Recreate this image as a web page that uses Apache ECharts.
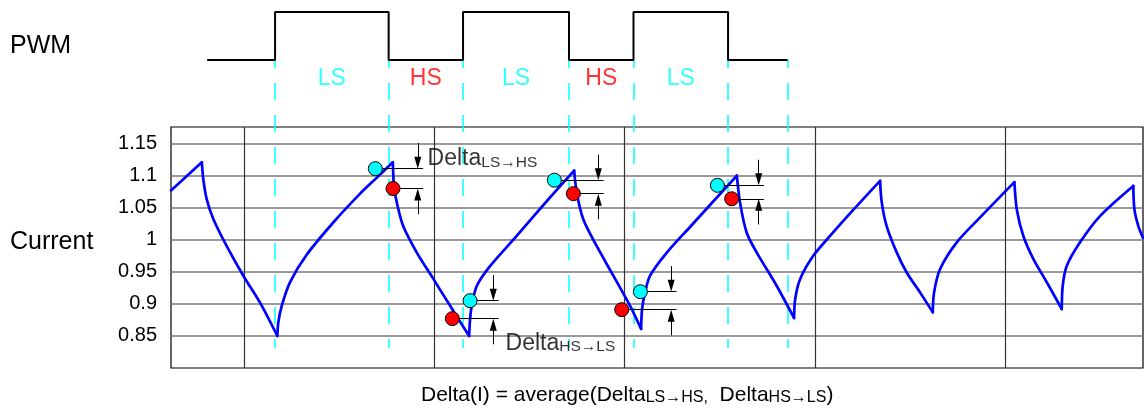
<!DOCTYPE html>
<html>
<head>
<meta charset="utf-8">
<title>PWM current delta</title>
<script src="https://cdn.jsdelivr.net/npm/echarts@6/dist/echarts.min.js"></script>
<style>
html,body{margin:0;padding:0;background:#fff;}
#main{width:1144px;height:408px;}
</style>
</head>
<body>
<div id="main"></div>
<script>
// time axis: one grid division = 10 units, t = 0 at the first vertical grid line
var gridTimes = [0, 10, 20, 30, 40];
var currentTicks = [0.85, 0.9, 0.95, 1, 1.05, 1.1, 1.15];

// PWM: trace start, switching edges, trace end
var pwmEdges = [-1.94, 1.63, 7.6, 11.51, 17.08, 20.47, 25.44, 28.57];
var pwmLevels = [0, 1, 0, 1, 0, 1, 0, 0];
var phaseNames = ['LS', 'HS', 'LS', 'HS', 'LS'];

// current trace
var curveT = [-3.84, -2.22, -2.14, -1.96, -1.61, -0.91, -0.04, 0.84, 1.75,
    1.80, 1.98, 2.42, 3.30, 4.69, 6.10, 6.98, 7.82,
    7.88, 8.03, 8.37, 9.08, 9.95, 10.83, 11.83,
    11.88, 11.97, 12.23, 12.93, 14.33, 16.08, 17.35,
    17.49, 17.83, 18.54, 19.41, 20.29, 20.87,
    20.92, 21.08, 21.34, 22.22, 23.44, 24.85, 25.90,
    26.07, 26.42, 26.95, 28.00, 28.91,
    28.97, 29.23, 29.92, 30.80, 32.03, 33.43,
    33.52, 33.78, 34.31, 34.83, 35.53, 36.20,
    36.27, 36.58, 37.46, 38.69, 40.49,
    40.62, 40.96, 41.49, 42.19, 42.98,
    43.03, 43.24, 43.94, 44.99, 46.74,
    46.80, 47.01, 47.25];
var curveI = [1.077, 1.121, 1.094, 1.063, 1.032, 0.990, 0.944, 0.902, 0.850,
    0.871, 0.897, 0.934, 0.977, 1.027, 1.072, 1.097, 1.121,
    1.084, 1.058, 1.021, 0.980, 0.939, 0.897, 0.850,
    0.876, 0.897, 0.928, 0.959, 1.006, 1.066, 1.108,
    1.073, 1.032, 0.990, 0.944, 0.897, 0.861,
    0.892, 0.918, 0.944, 0.980, 1.020, 1.066, 1.100,
    1.058, 1.011, 0.980, 0.928, 0.878,
    0.908, 0.939, 0.975, 1.006, 1.047, 1.092,
    1.058, 1.021, 0.980, 0.949, 0.918, 0.887,
    0.918, 0.954, 0.996, 1.035, 1.090,
    1.047, 1.006, 0.970, 0.934, 0.892,
    0.928, 0.959, 0.996, 1.037, 1.084,
    1.047, 1.021, 1.003];

// samples taken before (cyan) and after (red) each edge
var cyanT = [6.90, 11.88, 16.31, 20.83, 24.88];
var cyanI = [1.111, 0.905, 1.093, 0.919, 1.085];
var redT = [7.83, 10.95, 17.31, 19.85, 25.63];
var redI = [1.080, 0.877, 1.072, 0.891, 1.064];
var deltaLineEnd = [9.41, 13.38, 18.90, 22.73, 27.33];

var deltaTagT = [9.62, 13.72];
var deltaTagI = [1.1265, 0.838];
var deltaTagSub = ['LS\u2192HS', 'HS\u2192LS'];

var FONT = '"Liberation Sans", Arial, sans-serif';
var CYAN = '#00ffff';
var RED = '#ff0000';

function zip(a, b) {
    var out = [];
    for (var i = 0; i < a.length; i++) out.push([a[i], b[i]]);
    return out;
}

var pwmData = zip(pwmEdges, pwmLevels);

// split the trace at its peaks/valleys so each ramp can be smoothed on its own
function splitRamps(t, v) {
    var segs = [], cur = [[t[0], v[0]]];
    for (var i = 1; i < t.length; i++) {
        cur.push([t[i], v[i]]);
        if (i < t.length - 1 && (v[i] - v[i - 1]) * (v[i + 1] - v[i]) < 0) {
            segs.push(cur);
            cur = [[t[i], v[i]]];
        }
    }
    segs.push(cur);
    return segs;
}
var ramps = splitRamps(curveT, curveI);

var edgeLines = [];
for (var i = 1; i < pwmEdges.length; i++) {
    edgeLines.push([{coord: [pwmEdges[i], 0]}, {coord: [pwmEdges[i], -6]}]);
}

var phaseData = [];
for (var i = 0; i < phaseNames.length; i++) {
    phaseData.push({
        name: phaseNames[i],
        value: [(pwmEdges[i + 1] + pwmEdges[i + 2]) / 2, -0.39],
        label: {color: phaseNames[i] == 'LS' ? CYAN : RED}
    });
}

// leader lines + arrows (arrow head centred half its length before the line)
var deltaLines = [];
var arrowLen = 0.04, headHalf = 0.0094;
for (var i = 0; i < cyanT.length; i++) {
    var ax = deltaLineEnd[i] - 0.28;
    deltaLines.push([{coord: [cyanT[i], cyanI[i]]}, {coord: [deltaLineEnd[i], cyanI[i]]}]);
    deltaLines.push([{coord: [redT[i], redI[i]]}, {coord: [deltaLineEnd[i], redI[i]]}]);
    deltaLines.push([{coord: [ax, cyanI[i] + arrowLen], symbol: 'none'},
        {coord: [ax, cyanI[i] + headHalf], symbol: 'triangle', symbolSize: [7, 12]}]);
    deltaLines.push([{coord: [ax, redI[i] - arrowLen], symbol: 'none'},
        {coord: [ax, redI[i] - headHalf], symbol: 'triangle', symbolSize: [7, 12]}]);
}

var tagData = [];
for (var i = 0; i < deltaTagT.length; i++) {
    tagData.push({name: deltaTagSub[i], value: [deltaTagT[i], deltaTagI[i]]});
}

var series = [
    {
        name: 'PWM', type: 'line', xAxisIndex: 0, yAxisIndex: 0,
        step: 'end', symbol: 'none', data: pwmData, z: 1,
        lineStyle: {color: '#000', width: 2},
        markLine: {
            silent: true, z: 1, symbol: ['none', 'none'], label: {show: false},
            lineStyle: {color: CYAN, width: 1.5, type: [17, 15], dashOffset: 9},
            data: edgeLines
        }
    },
    {
        name: 'phase', type: 'scatter', xAxisIndex: 0, yAxisIndex: 0,
        symbolSize: 1, itemStyle: {color: 'rgba(0,0,0,0)'}, data: phaseData, z: 2,
        label: {show: true, position: 'inside', fontSize: 23, fontFamily: FONT,
            formatter: function (p) { return p.name; }}
    },
    {
        name: 'delta', type: 'line', xAxisIndex: 1, yAxisIndex: 1, data: [], z: 4,
        markLine: {
            silent: true, z: 4, symbol: ['none', 'none'],
            label: {show: false},
            itemStyle: {color: '#000'},
            lineStyle: {color: '#000', width: 1, type: 'solid'},
            data: deltaLines
        }
    },
    {
        name: 'before', type: 'scatter', xAxisIndex: 1, yAxisIndex: 1, z: 6,
        symbolSize: 14, data: zip(cyanT, cyanI),
        itemStyle: {color: CYAN, borderColor: '#000', borderWidth: 1, opacity: 1}
    },
    {
        name: 'after', type: 'scatter', xAxisIndex: 1, yAxisIndex: 1, z: 6,
        symbolSize: 14, data: zip(redT, redI),
        itemStyle: {color: RED, borderColor: '#000', borderWidth: 1, opacity: 1}
    },
    {
        name: 'tags', type: 'scatter', xAxisIndex: 1, yAxisIndex: 1, z: 6,
        symbolSize: 1, itemStyle: {color: 'rgba(0,0,0,0)'}, data: tagData,
        label: {
            show: true, position: 'right', distance: 0,
            formatter: function (p) { return '{m|Delta}{s|' + p.name + '}'; },
            rich: {
                m: {fontSize: 23, fontFamily: FONT, color: '#000'},
                s: {fontSize: 15.5, fontFamily: FONT, color: '#000', verticalAlign: 'bottom'}
            }
        }
    }
];
ramps.forEach(function (seg) {
    series.push({
        name: 'Current', type: 'line', xAxisIndex: 1, yAxisIndex: 1,
        symbol: 'none', data: seg, z: 3, smooth: 0.3,
        lineStyle: {color: '#0000ff', width: 2.7, cap: 'round', join: 'round'}
    });
});

var chart = echarts.init(document.getElementById('main'));
var option = {
    animation: false,
    textStyle: {fontFamily: FONT},
    grid: [
        {left: 171, right: 1, top: 12, height: 336, show: false},
        {left: 171, right: 1, top: 127, height: 241, show: true,
            borderColor: '#000', borderWidth: 1.2, backgroundColor: 'transparent'}
    ],
    xAxis: [
        {gridIndex: 0, type: 'value', min: -3.84, max: 47.25, show: false},
        {gridIndex: 1, type: 'value', min: -3.84, max: 47.25,
            axisLine: {show: false},
            axisTick: {show: false, customValues: gridTimes},
            axisLabel: {show: false, customValues: gridTimes},
            splitLine: {show: true, lineStyle: {color: '#333', width: 1.2}}}
    ],
    yAxis: [
        {gridIndex: 0, type: 'value', min: -6, max: 1, show: false},
        {gridIndex: 1, type: 'value', min: 0.8, max: 1.176, interval: 0.05,
            axisLine: {show: false},
            axisTick: {show: false, customValues: currentTicks},
            axisLabel: {color: '#000', fontSize: 20, margin: 14, fontFamily: FONT,
                customValues: currentTicks},
            splitLine: {show: true, lineStyle: {color: '#7a7a7a', width: 1.6}}}
    ],
    graphic: [
        {type: 'text', x: 10, y: 46, style: {text: 'PWM', fontSize: 25, fontFamily: FONT,
            fill: '#000', verticalAlign: 'middle'}},
        {type: 'text', x: 10, y: 242, style: {text: 'Current', fontSize: 25, fontFamily: FONT,
            fill: '#000', verticalAlign: 'middle'}},
        {type: 'text', x: 421, y: 395, style: {
            text: '{m|Delta(I) = average(Delta}{s|LS\u2192HS,}{m|  Delta}{s|HS\u2192LS}{m|)}',
            verticalAlign: 'middle',
            rich: {
                m: {fontSize: 21, fontFamily: FONT, fill: '#000'},
                s: {fontSize: 16, fontFamily: FONT, fill: '#000', verticalAlign: 'bottom'}
            }
        }}
    ],
    series: series
};
chart.setOption(option);
</script>
</body>
</html>
